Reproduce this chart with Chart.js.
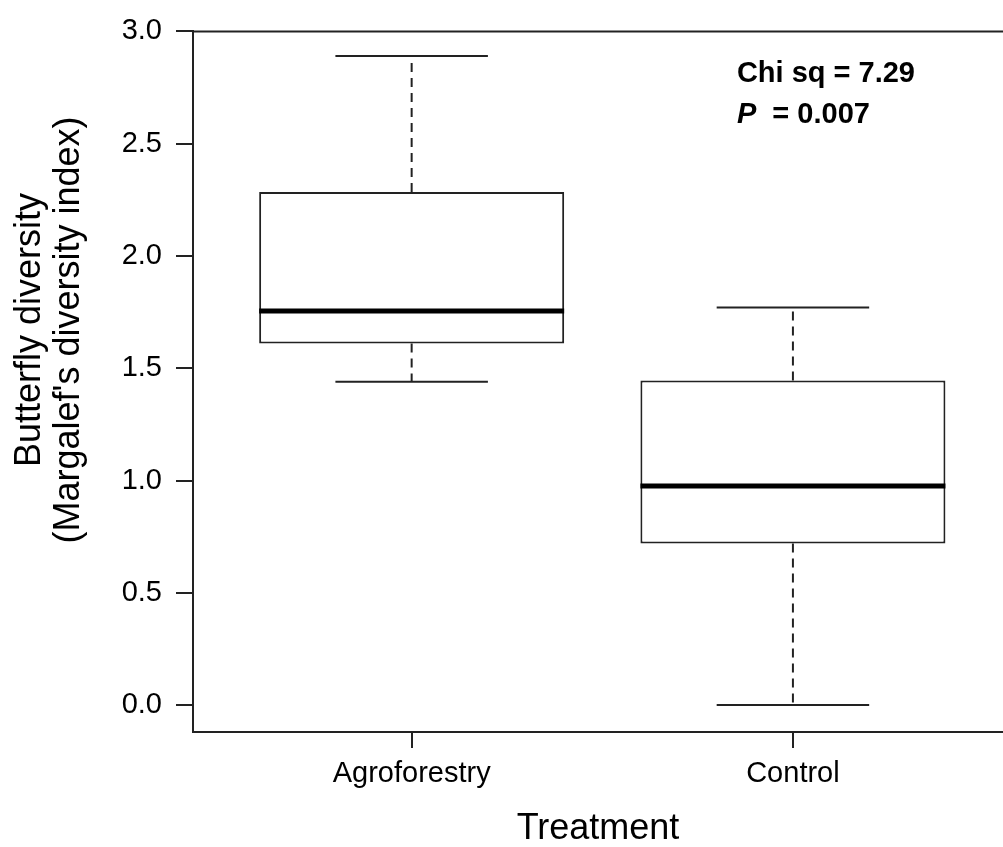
<!DOCTYPE html>
<html>
<head>
<meta charset="utf-8">
<script src="https://cdn.jsdelivr.net/npm/chart.js@4.4.1/dist/chart.umd.min.js"></script>
<style>
html, body { margin: 0; padding: 0; background: #fff; overflow: hidden; }
#wrap { width: 1003px; height: 847px; }
</style>
</head>
<body>
<div id="wrap"><canvas id="box"></canvas></div>
<script>
// box statistics
const categories = ['Agroforestry', 'Control'];
const whiskerLow = [1.44, 0.0];
const quart1 = [1.61, 0.72];
const medians = [1.755, 0.975];
const quart3 = [2.285, 1.445];
const whiskerHigh = [2.89, 1.77];
const yTicks = [0, 0.5, 1, 1.5, 2, 2.5, 3];
const yTitle = ['Butterfly diversity', "(Margalef's diversity index)"];
const statText = ['Chi sq = 7.29', 'P', '= 0.007'];
const statPos = { x: 1.853, y: [2.776, 2.592] };

const FONT = '"Liberation Sans", Arial, sans-serif';
const INK = '#222';
const boxHalf = 0.4, capHalf = 0.2;

Chart.defaults.font.family = FONT;
Chart.defaults.color = '#000';

// turn a list of segments into one line dataset with gaps between them
function segs(list) {
    const out = [];
    list.forEach((s, k) => {
        if (k) out.push({ x: s[0][0], y: null });
        out.push({ x: s[0][0], y: s[0][1] }, { x: s[1][0], y: s[1][1] });
    });
    return out;
}

const whiskers = segs(categories.flatMap((c, i) => [
    [[i + 1, quart3[i]], [i + 1, whiskerHigh[i]]],
    [[i + 1, quart1[i]], [i + 1, whiskerLow[i]]]
]));
const caps = segs(categories.flatMap((c, i) => [
    [[i + 1 - capHalf, whiskerHigh[i]], [i + 1 + capHalf, whiskerHigh[i]]],
    [[i + 1 - capHalf, whiskerLow[i]], [i + 1 + capHalf, whiskerLow[i]]]
]));
const medLines = segs(categories.map((c, i) => [[i + 1 - boxHalf, medians[i]], [i + 1 + boxHalf, medians[i]]]));

const lineBase = { type: 'line', pointRadius: 0, fill: false, tension: 0, spanGaps: false, borderCapStyle: 'butt' };

const extras = {
    id: 'extras',
    afterDraw(chart) {
        const { ctx, chartArea: a, scales: { x, y } } = chart;
        ctx.save();
        // top edge of the frame
        ctx.strokeStyle = INK;
        ctx.lineWidth = 2;
        ctx.beginPath();
        ctx.moveTo(a.left, a.top);
        ctx.lineTo(a.right, a.top);
        ctx.stroke();

        // y axis title, two lines
        ctx.save();
        ctx.translate(0, 330);
        ctx.rotate(-Math.PI / 2);
        ctx.fillStyle = '#000';
        ctx.font = '36px ' + FONT;
        ctx.textAlign = 'center';
        ctx.textBaseline = 'middle';
        ctx.fillText(yTitle[0], 0, 30);
        ctx.fillText(yTitle[1], 0, 69);
        ctx.restore();

        // test statistic
        const px = x.getPixelForValue(statPos.x);
        ctx.fillStyle = '#000';
        ctx.textBaseline = 'alphabetic';
        ctx.textAlign = 'left';
        ctx.font = 'bold 29px ' + FONT;
        ctx.fillText(statText[0], px, y.getPixelForValue(statPos.y[0]));
        ctx.font = 'italic bold 29px ' + FONT;
        const py = y.getPixelForValue(statPos.y[1]);
        ctx.fillText(statText[1], px, py);
        const wP = ctx.measureText(statText[1]).width;
        ctx.font = 'bold 29px ' + FONT;
        const sp = ctx.measureText(' ').width;
        ctx.fillText(statText[2], px + wP + 2 * sp, py);
        ctx.restore();
    }
};

new Chart(document.getElementById('box'), {
    type: 'bar',
    data: {
        datasets: [
            {
                type: 'bar',
                data: categories.map((c, i) => ({ x: i + 1, y: [quart1[i], quart3[i]] })),
                backgroundColor: '#fff',
                borderColor: INK,
                borderWidth: 2,
                borderSkipped: false,
                barPercentage: 0.8,
                categoryPercentage: 1,
                order: 3
            },
            { ...lineBase, data: whiskers, borderColor: INK, borderWidth: 2, borderDash: [9, 6], order: 2 },
            { ...lineBase, data: caps, borderColor: INK, borderWidth: 2, order: 2 },
            { ...lineBase, data: medLines, borderColor: '#000', borderWidth: 5, order: 1 }
        ]
    },
    options: {
        responsive: true,
        maintainAspectRatio: false,
        animation: false,
        devicePixelRatio: 1,
        layout: { padding: { top: 22, left: 0, right: 0, bottom: 0 } },
        plugins: { legend: { display: false }, tooltip: { enabled: false } },
        scales: {
            x: {
                type: 'linear',
                offset: false,
                min: 0.4265,
                max: 2.551,
                afterBuildTicks: s => { s.ticks = categories.map((c, i) => ({ value: i + 1 })); },
                afterFit: s => { s.height = 115; },
                ticks: {
                    callback: (v, i) => categories[i],
                    font: { size: 29 },
                    color: '#000',
                    padding: 9,
                    autoSkip: false,
                    maxRotation: 0
                },
                grid: { offset: false, drawOnChartArea: false, tickLength: 16, color: INK, lineWidth: 2 },
                border: { display: true, color: INK, width: 2 },
                title: {
                    display: true,
                    text: 'Treatment',
                    font: { size: 36, lineHeight: 1 },
                    color: '#000',
                    padding: { top: 0, bottom: 0 }
                }
            },
            y: {
                min: -0.12,
                max: 3.0,
                afterBuildTicks: s => { s.ticks = yTicks.map(v => ({ value: v })); },
                afterFit: s => { s.width = 193; },
                ticks: {
                    callback: v => v.toFixed(1),
                    font: { size: 29 },
                    color: '#000',
                    padding: 14
                },
                grid: { drawOnChartArea: false, tickLength: 17, color: INK, lineWidth: 2 },
                border: { display: true, color: INK, width: 2 }
            }
        }
    },
    plugins: [extras]
});
</script>
</body>
</html>
